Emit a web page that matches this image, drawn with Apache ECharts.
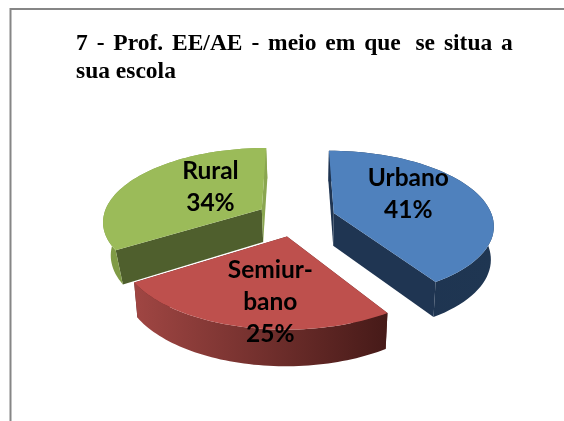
<!DOCTYPE html>
<html><head><meta charset="utf-8">
<style>html,body{margin:0;padding:0;background:#fff}#c{width:564px;height:421px}</style>
<script src="https://cdn.jsdelivr.net/npm/echarts@6/dist/echarts.min.js"></script>
</head><body><div id="c"></div>
<script>
const categories = ['Urbano', 'Semiur-\nbano', 'Rural'];
const percentValues = [41, 25, 34];
const titleLine1 = ['7 ', '- ', 'Prof. ', 'EE/AE ', '- ', 'meio ', 'em ', 'que  ', 'se ', 'situa ', 'a'];
const titleLine2 = 'sua escola';

const topColors = ['#4F81BD', '#BE504D', '#9BBB59'];
const startFaceColors = ['#1F3552', '#5A2220', '#4F5F2D'];
const endFaceColors = ['#1F3552', '#5A2220', '#8AA650'];
const wallStops = [['#1E3350', '#1F3652'], ['#A04643', '#461A18'], ['#7F9A45', '#8AA650']];
const wallShrink = [0.985, 0.98, 0.96];
const labelNudges = [[-13, -7], [8, 15], [26, -3]];
const labelRadius = [0.6, 0.6, 0.6];

const P = { cx: 296, cy: 218, R: 159, Ry: 73, k: 0.15, explode: 0.25, depth: 33 };
function proj(u, v) {
  const den = 1 - P.k * v;
  return [P.cx + P.R * u / den, P.cy + P.Ry * v / den, den];
}
function low(u, v, shrink) {
  const p = proj(u, v);
  return [P.cx + (p[0] - P.cx) * shrink, p[1] + P.depth / Math.sqrt(p[2])];
}
const total = percentValues.reduce((a, b) => a + b, 0);
const toAngle = x => x / total * 2 * Math.PI;

function renderSlice(params, api) {
  const i = params.dataIndex;
  const value = api.value(1);
  let before = 0;
  for (let j = 0; j < i; j++) before += percentValues[j];
  const a0 = toAngle(before), a1 = a0 + toAngle(value), mid = (a0 + a1) / 2;
  const ou = P.explode * Math.sin(mid), ov = -P.explode * Math.cos(mid);
  const steps = 60, uv = [];
  for (let s = 0; s <= steps; s++) {
    const a = a0 + (a1 - a0) * s / steps;
    uv.push([ou + Math.sin(a), ov - Math.cos(a)]);
  }
  const top = uv.map(q => proj(q[0], q[1]).slice(0, 2));
  const bot = uv.map(q => low(q[0], q[1], wallShrink[i]));
  const cTop = proj(ou, ov).slice(0, 2), cBot = low(ou, ov, wallShrink[i]);
  const children = [];
  children.push({ type: 'polygon', z2: 1, shape: { points: [cTop, top[0], bot[0], cBot] }, style: { fill: startFaceColors[i] } });
  children.push({ type: 'polygon', z2: 1, shape: { points: [cTop, top[steps], bot[steps], cBot] }, style: { fill: endFaceColors[i] } });
  children.push({ type: 'polygon', z2: 2, shape: { points: top.concat(bot.slice().reverse()) },
    style: { fill: new echarts.graphic.LinearGradient(0, 0, 1, 0, [
      { offset: 0, color: wallStops[i][0] }, { offset: 1, color: wallStops[i][1] }]) } });
  children.push({ type: 'polygon', z2: 3, shape: { points: [cTop].concat(top) }, style: { fill: topColors[i] } });
  const lp = proj(ou + labelRadius[i] * Math.sin(mid), ov - labelRadius[i] * Math.cos(mid));
  children.push({ type: 'text', z2: 10, x: lp[0] + labelNudges[i][0], y: lp[1] + labelNudges[i][1],
    style: { text: api.value(0) + '\n' + value + '%', fill: '#000', font: 'bold 24.5px Lato', lineHeight: 32,
      align: 'center', verticalAlign: 'middle' } });
  return { type: 'group', children };
}

const titleFont = { fontFamily: 'Liberation Serif', fontWeight: 'bold', fontSize: 23.5, lineHeight: 28, color: '#000' };
const chart = echarts.init(document.getElementById('c'), null, { renderer: 'canvas' });
chart.setOption({
  animation: false,
  backgroundColor: '#fff',
  title: {
    text: titleLine1.map(w => '{w|' + w + '}').join('') + '\n{p|' + titleLine2 + '}',
    left: 71, top: 25,
    textStyle: Object.assign({}, titleFont, { rich: {
      w: Object.assign({}, titleFont, { padding: [0, 3, 0, 0] }),
      p: Object.assign({}, titleFont)
    } })
  },
  graphic: [
    { type: 'polyline', silent: true, shape: { points: [[10.5, 430], [10.5, 9], [570, 9]] }, style: { fill: 'none', stroke: '#868686', lineWidth: 2 } }
  ],
  series: [{ type: 'custom', coordinateSystem: 'none', renderItem: renderSlice,
    data: categories.map((c, i) => [c, percentValues[i]]) }]
});
</script></body></html>
